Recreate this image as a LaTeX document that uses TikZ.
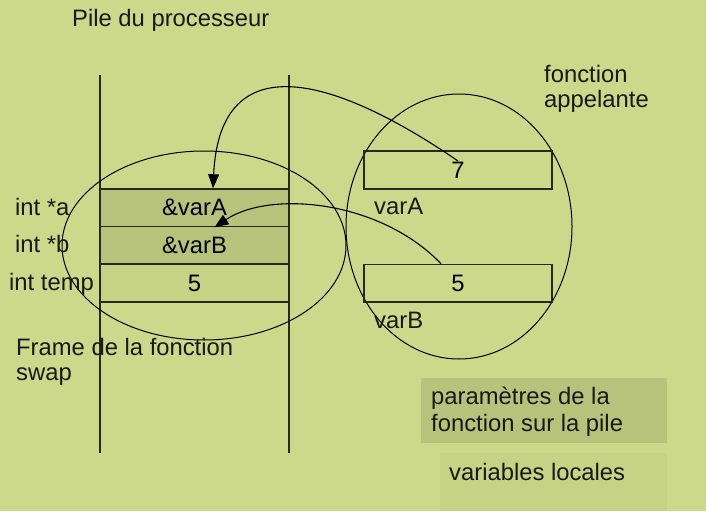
\documentclass[tikz,border=0pt]{standalone}
\usepackage{fontspec}
\setmainfont{Liberation Sans}
\usepackage{tikz}
\usetikzlibrary{arrows.meta,calc,shapes.geometric}
\definecolor{fond}{RGB}{204,216,138}
\definecolor{param}{RGB}{183,194,122}
\definecolor{locale}{RGB}{198,210,132}
\definecolor{trait}{RGB}{40,40,30}
\begin{document}
\begin{tikzpicture}[x=1pt,y=-1pt,font=\fontsize{23.8}{25}\selectfont,
  lbl/.style={inner sep=0,anchor=base west,align=left,text=black!90},
  cell/.style={draw=trait,line width=1.5,minimum width=189,minimum height=37.6,inner sep=0},
  var/.style={draw=trait,line width=1.5,minimum width=188,minimum height=37.6,inner sep=0},
  zone/.style={ellipse,draw,line width=1,inner sep=0},
  fl/.style={line width=1.1,-{Triangle[length=14,width=11]}}]
\fill[fond](0,0)rectangle(706,511);\useasboundingbox(0,0)rectangle(706,511);
% legende (base = derniere ligne)
\node[fill=param,minimum width=246,minimum height=65,anchor=north west,inner sep=0](pbox)at(421,378){};
\node[fill=locale,minimum width=227,minimum height=58,anchor=north west,inner sep=0](lbox)at(440,453){};
\node[lbl](ptxt)at(431,431){paramètres de la\\[2pt]fonction sur la pile};
\node[lbl](ltxt)at(449,480){variables locales};
% pile
\draw[trait,line width=1.5](100,75)--(100,453);\draw[trait,line width=1.5](289,75)--(289,453);
\node[lbl](titre)at(72,27){Pile du processeur};
\node[zone,minimum width=284,minimum height=189](swap)at(204,245.5){};
\node[cell,fill=param](ca)at(194.5,207.8){\&varA};
\node[cell,fill=param](cb)at(194.5,245.4){\&varB};
\node[cell,fill=locale](ct)at(194.5,283){5};
\node[lbl](ia)at(15,215){int *a};\node[lbl](ib)at(15,252.7){int *b};\node[lbl](it)at(9,290){int temp};
\node[lbl](fr)at(16,380){Frame de la fonction\\swap};
% appelante
\node[zone,minimum width=226,minimum height=265](app)at(459,226.5){};
\node[lbl](atxt)at(544,107.5){fonction\\appelante};
\node[var](va)at(458,170){7};\node[var](vb)at(458,283.3){5};
\node[lbl](na)at(374,214){varA};\node[lbl](nb)at(374,328){varB};
% pointeurs
\draw[fl]($(va)+(0,-9)$)..controls(340,80)and(220,40)..($(ca.north)+(18.5,0)$);
\draw[fl]($(vb.north)+(-17,0)$)..controls(380,200)and(270,190)..($(ca.south)+(20,0)$);
\end{tikzpicture}
\end{document}
